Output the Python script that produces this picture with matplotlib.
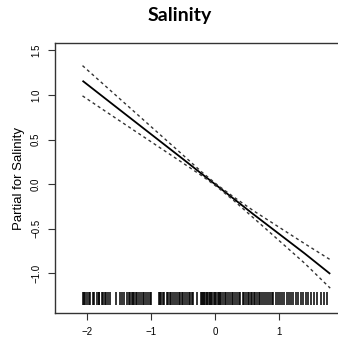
import matplotlib
matplotlib.use("Agg")
import matplotlib.pyplot as plt

# Data
fit_x = [-2.07, -1.5, -1.0, -0.5, -0.2, 0.05, 0.3, 0.6, 1.0, 1.4, 1.8]
fit_y = [1.16, 0.84, 0.56, 0.28, 0.11, -0.03, -0.17, -0.34, -0.56, -0.78, -1.01]
half_width = [0.17, 0.125, 0.085, 0.045, 0.02, 0.012, 0.02, 0.04, 0.075, 0.11, 0.16]

rug_x = [-2.07, -2.05, -2.03, -2.00, -1.97, -1.95, -1.91, -1.89, -1.85, -1.82, -1.81,
         -1.77, -1.75, -1.72, -1.70, -1.67, -1.64, -1.55, -1.48, -1.46, -1.42, -1.38,
         -1.35, -1.33, -1.30, -1.28, -1.26, -1.24, -1.22, -1.19, -1.16, -1.13, -1.11,
         -1.08, -1.05, -1.02, -1.00, -0.875, -0.86, -0.84, -0.82, -0.79, -0.75, -0.73,
         -0.70, -0.68, -0.65, -0.62, -0.60, -0.57, -0.55, -0.52, -0.50, -0.47, -0.44,
         -0.41, -0.39, -0.36, -0.34, -0.28, -0.22, -0.20, -0.19, -0.17, -0.15, -0.13,
         -0.12, -0.10, -0.08, -0.06, -0.04, -0.02, 0.00, 0.02, 0.04, 0.06, 0.08, 0.10,
         0.12, 0.15, 0.17, 0.20, 0.23, 0.26, 0.28, 0.31, 0.34, 0.37, 0.39, 0.44, 0.46,
         0.48, 0.51, 0.53, 0.56, 0.58, 0.61, 0.63, 0.66, 0.69, 0.71, 0.74, 0.77, 0.80,
         0.83, 0.86, 0.89, 0.91, 0.95, 0.98, 1.01, 1.05, 1.08, 1.12, 1.15, 1.19, 1.22,
         1.26, 1.30, 1.34, 1.38, 1.42, 1.46, 1.50, 1.55, 1.60, 1.65, 1.70, 1.745]

x_ticks = [-2, -1, 0, 1]
x_tick_labels = ["\u22122", "\u22121", "0", "1"]
y_ticks = [-1.0, -0.5, 0.0, 0.5, 1.0, 1.5]
y_tick_labels = ["\u22121.0", "\u22120.5", "0.0", "0.5", "1.0", "1.5"]

upper = [y + h for y, h in zip(fit_y, half_width)]
lower = [y - h for y, h in zip(fit_y, half_width)]

fig = plt.figure(figsize=(3.38, 3.39), dpi=100)
ax = fig.add_axes([55 / 338, 1 - 313 / 339, (345 - 55) / 338, (313 - 43) / 339])

ax.plot(fit_x, fit_y, color="black", lw=1.3, solid_capstyle="butt")
ax.plot(fit_x, upper, color="#333333", lw=1.0, linestyle=(0, (2.2, 2.2)))
ax.plot(fit_x, lower, color="#333333", lw=1.0, linestyle=(0, (2.2, 2.2)))
ax.vlines(rug_x, -1.355, -1.21, color="black", lw=1.1)

ax.set_xlim(-2.5, -2.5 + 290 / 64)
ax.set_ylim((184 - 313) / 89, (184 - 43) / 89)

ax.set_xticks(x_ticks)
ax.set_xticklabels(x_tick_labels, fontsize=7, family="Liberation Sans")
ax.set_yticks(y_ticks)
ax.set_yticklabels(y_tick_labels, fontsize=7, family="Liberation Sans", rotation=90, va="center")
ax.tick_params(direction="out", length=5, width=0.8, pad=5, color="#333333")
for s in ax.spines.values():
    s.set_linewidth(1.0)
    s.set_color("#333333")

ax.set_ylabel("Partial for Salinity", fontsize=9.5, family="Liberation Sans")
ax.yaxis.set_label_coords(-0.105, 0.5)

fig.text(180 / 338, 1 - 16 / 339, "Salinity", fontsize=14, fontweight="bold",
         family="Lato", ha="center", va="center")

fig.savefig("out.png", dpi=100)
